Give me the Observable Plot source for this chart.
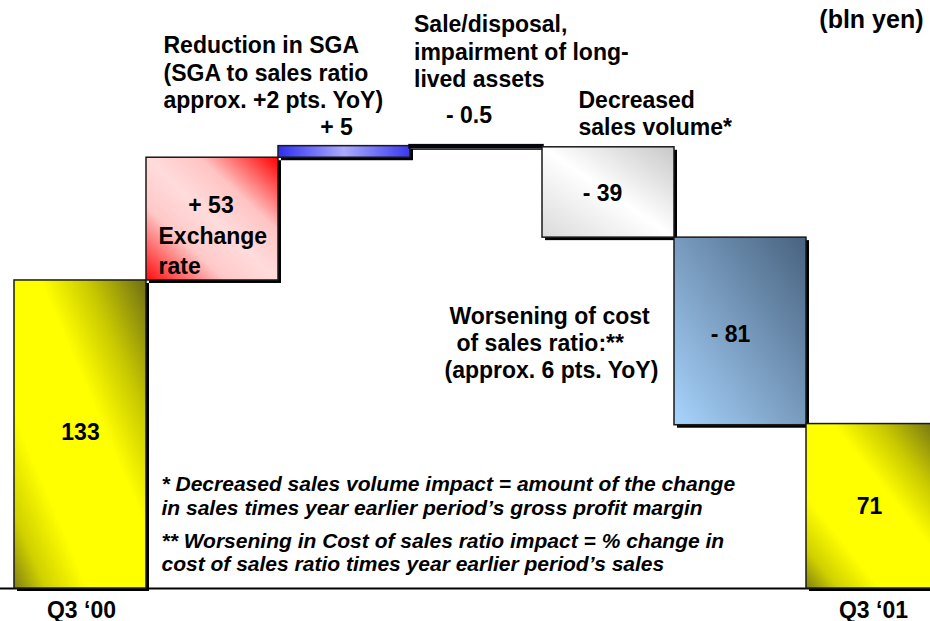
<!DOCTYPE html>
<html><head><meta charset="utf-8">
<script src="https://cdn.jsdelivr.net/npm/d3@7"></script>
<script src="https://cdn.jsdelivr.net/npm/@observablehq/plot@0.6"></script>
<style>body{margin:0;background:#fff;}</style>
</head><body><div id="chart"></div>
<script>
// ---- data ----
const categories = ["Q3 '00", "Exchange rate", "SGA", "Long-lived assets", "Sales volume", "Cost of sales ratio", "Q3 '01"];
const values = [133, 53, 5, -0.5, -39, -81, 71];
const isTotal = [true, false, false, false, false, false, true];
const valueLabels = ["133", "+ 53", "+ 5", "- 0.5", "- 39", "- 81", "71"];
const axisLabels = ["Q3 \u201800", "", "", "", "", "", "Q3 \u201801"];
const unitLabel = "(bln yen)";
const noteExchange = "Exchange\nrate";
const noteSGA = "Reduction in SGA\n(SGA to sales ratio\napprox. +2 pts. YoY)";
const noteAssets = "Sale/disposal,\nimpairment of long-\nlived assets";
const noteVolume = "Decreased\nsales volume*";
const noteCost = ["Worsening of cost", "of sales ratio:**", "(approx. 6 pts. YoY)"];
const footnote1 = "* Decreased sales volume impact = amount of the change\nin sales times year earlier period\u2019s gross profit margin";
const footnote2 = "** Worsening in Cost of sales ratio impact = % change in\ncost of sales ratio times year earlier period\u2019s sales";

// ---- waterfall table ----
let cum = 0;
const bars = categories.map((cat, i) => {
  let y1, y2;
  if (isTotal[i]) { y1 = 0; y2 = values[i]; cum = values[i]; }
  else { y1 = cum; y2 = cum + values[i]; cum = y2; }
  return {cat, i, lo: Math.min(y1, y2), hi: Math.max(y1, y2), mid: (y1 + y2) / 2,
          label: valueLabels[i], axis: axisLabels[i]};
});

// ---- styles ----
const FONT = "Liberation Sans, Arial, Helvetica, sans-serif";
const T = {fontFamily: FONT, fontWeight: "bold", fill: "black", fontSize: 23, lineAnchor: "bottom", lineHeight: 1.2};
const yellow = {dir: [1, 0, 0, 1], stops: [[0, "#6e6e14"], [0.22, "#c8c800"], [0.4, "#ffff00"], [0.72, "#ffff00"], [0.88, "#d0d000"], [1, "#808010"]]};
const gradientDefs = [
  yellow,
  {dir: [1, 0, 0, 1], stops: [[0, "#ff0000"], [0.3, "#ffc4c4"], [0.5, "#ffdcdc"], [0.7, "#ffc8c8"], [1, "#ff0a0a"]]},
  {dir: [0, 0, 1, 0], stops: [[0, "#2e2ef0"], [0.5, "#aaaaff"], [1, "#3838ee"]]},
  {dir: [0, 0, 1, 0], stops: [[0, "#000008"], [0.8, "#101a2c"], [1, "#3a5a80"]]},
  {dir: [1, 0, 0, 1], stops: [[0, "#c8c8c8"], [0.5, "#ffffff"], [1, "#dadada"]]},
  {dir: [1, 0, 0, 1], stops: [[0, "#48627f"], [1, "#a8d4fd"]]},
  yellow
];

function note(i, text, y, opts) {
  return Plot.text([bars[i]], {x: "cat", y, text: () => text, ...T, ...opts});
}
const barStroke = b => b.i === 3 ? {stroke: "#05050c", strokeWidth: 3.5} : {stroke: "#1a1a1a", strokeWidth: 1.5};

const chart = Plot.plot({
  width: 930,
  height: 621,
  marginTop: 9,
  marginBottom: 33,
  marginLeft: 0,
  marginRight: 0,
  style: {background: "white", fontFamily: FONT},
  x: {domain: categories, range: [11, 940], padding: 0, axis: null},
  y: {domain: [0, 250], axis: null},
  marks: [
    Plot.ruleY([0], {stroke: "black", strokeWidth: 2}),
    Plot.barY(bars, {x: "cat", y1: "lo", y2: "hi", fill: "black", dx: 3, dy: 3}),
    ...bars.map(b => Plot.barY([b], {x: "cat", y1: "lo", y2: "hi", fill: `url(#wfgrad${b.i})`, ...barStroke(b)})),
    // value labels and notes
    note(0, valueLabels[0], "mid", {dy: 6}),
    note(1, valueLabels[1], "hi", {dy: 55, dx: -1.5}),
    note(1, noteExchange, "hi", {dy: 116, dx: -54, textAnchor: "start", lineHeight: 1.3}),
    note(2, valueLabels[2], "hi", {dy: -11, dx: -8}),
    note(2, noteSGA, "hi", {dy: -38, dx: -181, textAnchor: "start"}),
    note(3, valueLabels[3], "hi", {dy: -23.5, dx: -7.5}),
    note(3, noteAssets, "hi", {dy: -59, dx: -62.5, textAnchor: "start"}),
    note(4, valueLabels[4], "mid", {dy: 9, dx: -6}),
    note(4, noteVolume, "hi", {dy: -12, dx: -30, textAnchor: "start"}),
    note(5, valueLabels[5], "mid", {dy: 11, dx: -10}),
    note(5, noteCost[0], "mid", {dy: -7, dx: -291, textAnchor: "start"}),
    note(5, noteCost[1], "mid", {dy: 20, dx: -284, textAnchor: "start"}),
    note(5, noteCost[2], "mid", {dy: 47, dx: -296, textAnchor: "start"}),
    note(6, valueLabels[6], "mid", {dy: 8, dx: -3}),
    note(6, unitLabel, 250, {dy: 18, dx: 51, textAnchor: "end", fontSize: 25}),
    // axis labels
    Plot.text(bars.filter(b => b.axis), {x: "cat", y: 0, text: "axis", ...T, dy: 29, dx: 1}),
    // footnotes
    note(1, footnote1, 0, {dy: -74, dx: -51, textAnchor: "start", fontSize: 21, fontStyle: "italic", lineHeight: 1.1}),
    note(1, footnote2, 0, {dy: -18, dx: -51, textAnchor: "start", fontSize: 21, fontStyle: "italic", lineHeight: 1.05})
  ]
});

// gradient defs
const svg = d3.select(chart);
const defs = svg.insert("defs", ":first-child");
gradientDefs.forEach((g, i) => {
  const lg = defs.append("linearGradient").attr("id", `wfgrad${i}`)
    .attr("x1", g.dir[0]).attr("y1", g.dir[1]).attr("x2", g.dir[2]).attr("y2", g.dir[3]);
  g.stops.forEach(([o, c]) => lg.append("stop").attr("offset", o).attr("stop-color", c));
});

document.getElementById("chart").appendChild(chart);
</script>
</body></html>
